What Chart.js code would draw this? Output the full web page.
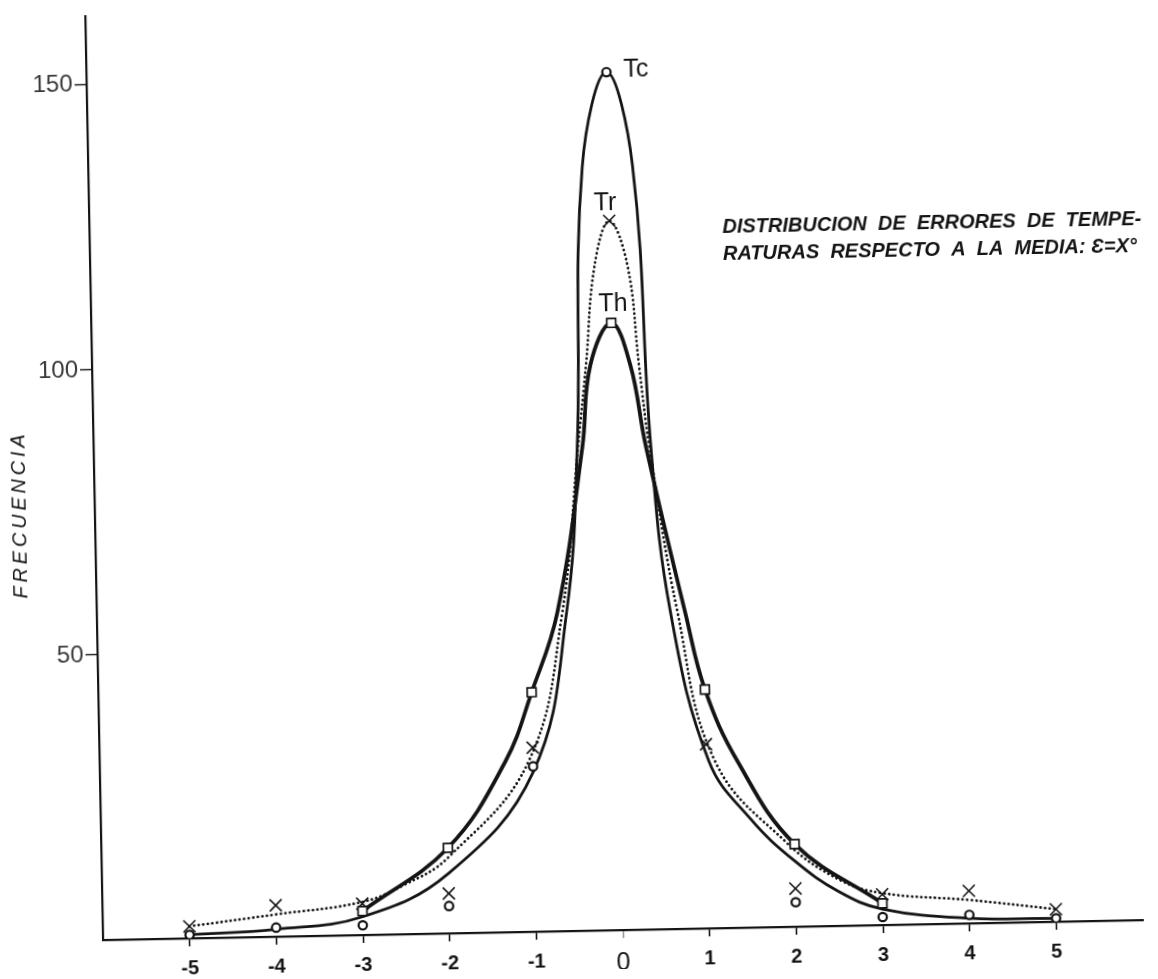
<!DOCTYPE html>
<html>
<head>
<meta charset="utf-8">
<title>Distribucion de errores de temperaturas</title>
<script src="https://cdn.jsdelivr.net/npm/chart.js@4"></script>
<style>
  html, body { margin: 0; padding: 0; background: #fff; overflow: hidden; }
  #chart {
    display: block;
    /* the scanned sheet is turned a little */
    transform-origin: 103px 940px;
    transform: rotate(-1.1deg);
  }
</style>
</head>
<body>
<canvas id="chart" width="1158" height="979"></canvas>
<script>
        // error classes (degrees from the mean) and ticks
        const ERRORS = [-5, -4, -3, -2, -1, 0, 1, 2, 3, 4, 5];
        const Y_TICKS = [50, 100, 150];

        // observed frequencies (markers)
        const TC_OBS = [0.6, 1.6, 1.7, 4.8, 29.0, 150.5, null, 4.3, 1.4, 1.5, 0.6];
        const TR_OBS = [2.1, 5.5, 5.5, 7.0, 32.3, 124.4, 32.3, 6.7, 5.4, 5.7, 2.2];
        const TH_OBS = [null, null, 4.2, 15.0, 42.0, 106.5, 41.9, 14.5, 3.8, null, null];

        // fitted curves
        const TC_CURVE_X = [-5, -4, -3, -2, -1, -0.58, -0.42, -0.30, 0, 0.28, 0.43, 0.62, 1.03, 1.5, 2, 2.5, 3, 4, 5];
        const TC_CURVE_Y = [0.6, 1.3, 3.2, 10.5, 28.0, 55.8, 84.9, 134.0, 150.5, 134.0, 84.6, 55.5, 29.3, 19.0, 11.5, 6.0, 2.8, 0.9, 0.6];

        const TH_CURVE_X = [-3, -2, -1.32, -1, -0.686, -0.36, -0.25, 0, 0.21, 0.37, 0.79, 1, 1.36, 2, 3];
        const TH_CURVE_Y = [4.2, 15.0, 29.9, 42.0, 55.9, 84.9, 99.2, 106.5, 99.1, 84.9, 55.4, 41.9, 29.2, 14.5, 3.8];

        const TR_CURVE_X = [-5, -4, -3, -2.52, -2, -1.05, -0.63, -0.41, -0.30, -0.18, 0, 0.2, 0.31, 0.41, 0.70, 1.10, 1.92, 2.52, 3, 4, 5];
        const TR_CURVE_Y = [2.1, 3.9, 5.8, 8.6, 13.3, 29.9, 55.8, 85.0, 99.3, 116.6, 124.4, 116.5, 99.1, 85.0, 55.6, 29.3, 14.6, 8.0, 5.6, 4.1, 2.2];

        const TITLE_LINES = ['DISTRIBUCION  DE  ERRORES  DE  TEMPE-', 'RATURAS  RESPECTO  A  LA  MEDIA: Ɛ=X°'];
        const Y_TITLE = 'FRECUENCIA';

        const INK = '#141414';
        const FONT = '"Liberation Sans", Arial, sans-serif';

        function toPoints(xs, ys) {
            return xs.map((x, i) => ({ x: x, y: ys[i] })).filter(p => p.y !== null);
        }

        function curve(label, xs, ys, width, dash) {
            return {
                label: label,
                data: toPoints(xs, ys),
                showLine: true,
                borderColor: INK,
                borderWidth: width,
                borderDash: dash || [],
                borderCapStyle: dash ? 'round' : 'butt',
                borderJoinStyle: 'round',
                pointRadius: 0,
                tension: 0.4,
                fill: false,
                order: 2
            };
        }

        function markers(label, ys, style, radius, width) {
            return {
                label: label,
                data: toPoints(ERRORS, ys),
                showLine: false,
                pointStyle: style,
                pointRadius: radius,
                pointBorderWidth: width,
                pointBackgroundColor: '#fff',
                pointBorderColor: INK,
                order: 1
            };
        }

        // text drawn on top: heading, curve names and axis name
        const annotations = {
            id: 'annotations',
            afterDraw(chart) {
                const ctx = chart.ctx;
                const xs = chart.scales.x;
                const ys = chart.scales.y;
                const x0 = xs.getPixelForValue(0);
                ctx.save();
                ctx.fillStyle = INK;

                ctx.font = '25px ' + FONT;
                ctx.textBaseline = 'middle';
                ctx.textAlign = 'left';
                ctx.fillText('Tc', x0 + 17, ys.getPixelForValue(TC_OBS[5]) - 2);
                ctx.textAlign = 'center';
                ctx.fillText('Tr', x0 - 4, ys.getPixelForValue(TR_OBS[5]) - 18);
                ctx.fillText('Th', x0 + 2, ys.getPixelForValue(TH_OBS[5]) - 19);

                ctx.font = 'italic bold 20px ' + FONT;
                ctx.textAlign = 'left';
                ctx.fillText(TITLE_LINES[0], 736, 239);
                ctx.fillText(TITLE_LINES[1], 736, 266);

                ctx.font = 'italic 20px ' + FONT;
                ctx.letterSpacing = '3.8px';
                ctx.translate(28, 513);
                ctx.rotate(-Math.PI / 2);
                ctx.textAlign = 'center';
                ctx.fillText(Y_TITLE, 0, 0);
                ctx.restore();
            }
        };

        const ctx = document.getElementById('chart').getContext('2d');

        new Chart(ctx, {
            type: 'scatter',
            data: {
                datasets: [
                    curve('Tc', TC_CURVE_X, TC_CURVE_Y, 2.8),
                    curve('Th', TH_CURVE_X, TH_CURVE_Y, 3.8),
                    curve('Tr', TR_CURVE_X, TR_CURVE_Y, 2.8, [0.01, 4.6]),
                    markers('Tc obs', TC_OBS, 'circle', 4.2, 2.2),
                    markers('Th obs', TH_OBS, 'rect', 6.3, 1.7),
                    markers('Tr obs', TR_OBS, 'crossRot', 8.5, 1.6)
                ]
            },
            options: {
                responsive: false,
                animation: false,
                devicePixelRatio: 1,
                layout: { padding: { top: 8, right: 15, left: 0, bottom: 0 } },
                plugins: {
                    legend: { display: false },
                    tooltip: { enabled: false }
                },
                scales: {
                    x: {
                        type: 'linear',
                        min: -6,
                        max: 6,
                        afterBuildTicks: axis => {
                            axis.ticks = ERRORS.map(v => ({ value: v }));
                        },
                        afterFit: axis => { axis.height = 39; },
                        ticks: {
                            autoSkip: false,
                            maxRotation: 0,
                            padding: 10,
                            color: INK,
                            font: c => (c.tick && c.tick.value === 0)
                                ? { family: FONT, size: 25, weight: 'normal' }
                                : { family: FONT, size: 20, weight: 'bold' }
                        },
                        grid: {
                            drawOnChartArea: false,
                            drawTicks: true,
                            tickLength: 8,
                            tickWidth: 1.6,
                            tickColor: c => (c.tick && c.tick.value === 0) ? '#9a9a9a' : INK
                        },
                        border: { color: INK, width: 2.2 }
                    },
                    y: {
                        type: 'linear',
                        min: 0,
                        max: 162,
                        afterBuildTicks: axis => {
                            axis.ticks = Y_TICKS.map(v => ({ value: v }));
                        },
                        afterFit: axis => { axis.width = 103; },
                        ticks: {
                            padding: 2,
                            color: '#3a3a3a',
                            font: { family: FONT, size: 24, weight: 'normal' }
                        },
                        grid: {
                            drawOnChartArea: false,
                            drawTicks: true,
                            tickLength: 12,
                            tickWidth: 1.4,
                            tickColor: INK
                        },
                        border: { color: INK, width: 2.2 }
                    }
                }
            },
            plugins: [annotations]
        });
</script>
</body>
</html>
